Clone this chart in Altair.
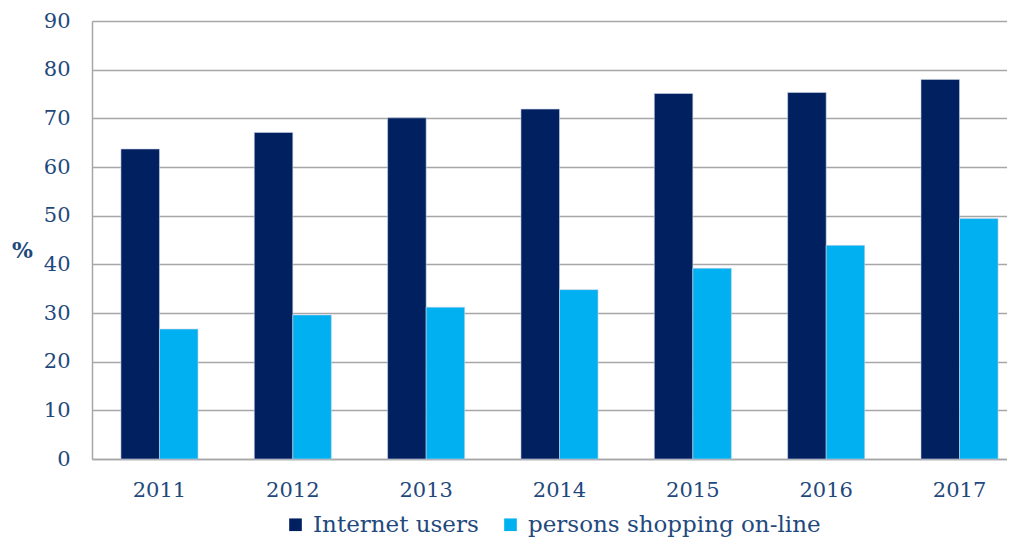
import altair as alt
import pandas as pd

years = ["2011", "2012", "2013", "2014", "2015", "2016", "2017"]
internet_users = [63.7, 67.1, 70.1, 71.9, 75.1, 75.3, 78.0]
shopping_online = [26.7, 29.6, 31.2, 34.8, 39.2, 43.9, 49.4]
series_names = ["Internet users", "persons shopping on-line"]
y_ticks = [0, 10, 20, 30, 40, 50, 60, 70, 80, 90]

rows = []
for i, yr in enumerate(years):
    rows.append({"year": yr, "series": series_names[0], "value": internet_users[i]})
    rows.append({"year": yr, "series": series_names[1], "value": shopping_online[i]})
df = pd.DataFrame(rows)

FONT = "DejaVu Serif"
TXT = "#1F497D"
GRID = "#A6A6A6"

chart = alt.Chart(df).mark_bar(stroke="#C9D3E6", strokeWidth=0.6).encode(
    x=alt.X("year:N", sort=years,
            scale=alt.Scale(paddingInner=0.422, paddingOuter=0.217, rangeMax=935),
            axis=alt.Axis(title=None, labelAngle=0, ticks=False, domain=True,
                          domainColor=GRID, domainWidth=1.5, labelPadding=20,
                          labelFont=FONT, labelFontSize=21, labelColor=TXT)),
    xOffset=alt.XOffset("series:N", sort=series_names,
                        scale=alt.Scale(paddingInner=0, paddingOuter=0)),
    y=alt.Y("value:Q", scale=alt.Scale(domain=[0, 90], nice=False),
            axis=alt.Axis(values=y_ticks, title="%", titleAngle=0, titleX=-70, titleY=229,
                          titleAlign="center", titleBaseline="middle", titleFont=FONT,
                          titleFontSize=22, titleFontWeight="bold", titleColor=TXT,
                          ticks=False, labelPadding=22, labelFont=FONT, labelFontSize=21,
                          labelColor=TXT, grid=True, gridColor=GRID, gridWidth=1.5,
                          domainColor=GRID, domainWidth=1.5)),
    color=alt.Color("series:N", sort=series_names,
                    scale=alt.Scale(domain=series_names, range=["#002060", "#00B0F0"]),
                    legend=alt.Legend(title=None, orient="none", legendX=192, legendY=492,
                                      direction="horizontal", symbolType="square",
                                      symbolSize=160, symbolStrokeWidth=0,
                                      labelFont=FONT, labelFontSize=23, labelColor=TXT,
                                      labelOffset=6, columnPadding=20, labelLimit=400)),
).properties(
    width=915, height=438,
    autosize=alt.AutoSizeParams(type="none"),
    padding={"left": 84, "top": 13, "right": 0, "bottom": 80},
).configure_view(stroke=None).configure(background="white")

chart.save("out.html", embed_options={"renderer": "svg", "actions": False})
